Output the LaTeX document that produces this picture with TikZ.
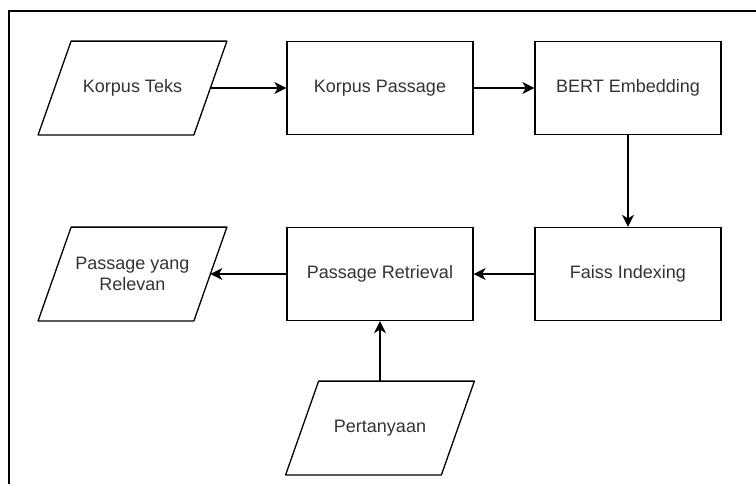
\documentclass[tikz,border=0pt]{standalone}
\usepackage{fontspec}
\setmainfont{Liberation Sans}
\usetikzlibrary{arrows.meta}

\begin{document}
\begin{tikzpicture}[x=0.5pt, y=-0.5pt, every node/.style={font=\fontsize{9}{10.5}\selectfont, text=black!80, align=center}, proc/.style={draw=black, line width=0.65pt, minimum width=93pt, minimum height=46.5pt, inner sep=0pt}, inout/.style={minimum width=77.5pt, minimum height=46.5pt, inner sep=0pt}, flow/.style={-{Stealth[length=6pt, width=6pt, inset=1.8pt]}, line width=0.65pt}]
  \useasboundingbox (0,0) rectangle (756,484);
  % frame
  \draw [line width=0.8pt] (9,484) -- (9,11) -- (756,11);
  % top row
  \node [inout] (teks) at (132.5,88) {Korpus Teks};
  \node [proc] (passage) at (380,88) {Korpus Passage};
  \node [proc] (bert) at (628,88) {BERT Embedding};
  % bottom row
  \node [proc] (faiss) at (628,274) {Faiss Indexing};
  \node [proc] (retrieval) at (380,274) {Passage Retrieval};
  \node [inout] (relevan) at (132.5,274) {Passage yang\\Relevan};
  \node [inout] (tanya) at (380,428) {Pertanyaan};
  % slanted data boxes
  \foreach \n in {teks, relevan, tanya} {\draw [line width=0.65pt, line join=round] ([xshift=8.25pt]\n.north west) -- ([xshift=8.25pt]\n.north east) -- ([xshift=-8.25pt]\n.south east) -- ([xshift=-8.25pt]\n.south west) -- cycle;};
  % arrows
  \foreach \a/\b in {teks.east/passage.west, passage.east/bert.west, bert.south/faiss.north, faiss.west/retrieval.east, retrieval.west/relevan.east, tanya.north/retrieval.south} {\draw [flow] (\a) -- (\b);};
\end{tikzpicture}
\end{document}
